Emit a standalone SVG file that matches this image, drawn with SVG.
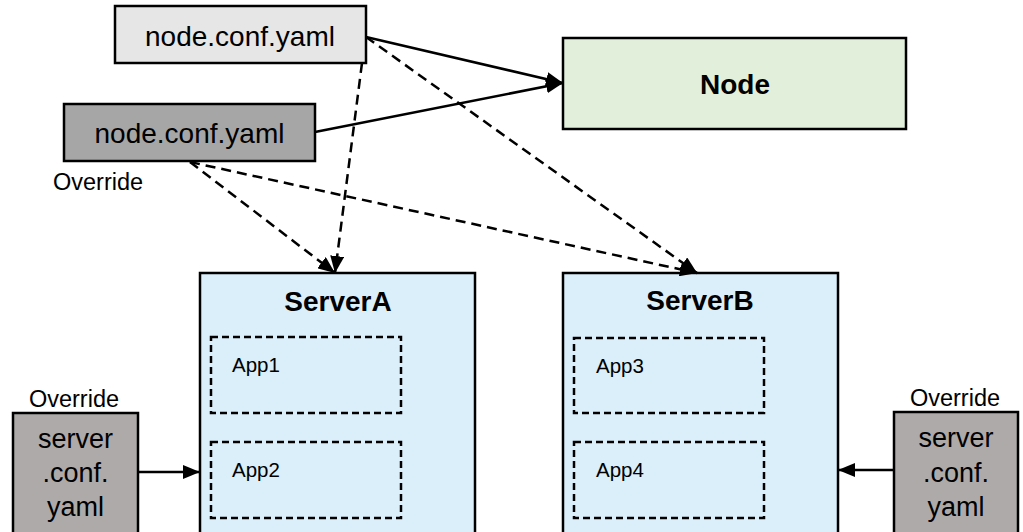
<svg xmlns="http://www.w3.org/2000/svg" width="1023" height="532" viewBox="0 0 1023 532">
<defs>
<marker id="ah" markerUnits="userSpaceOnUse" markerWidth="17" markerHeight="14" refX="17" refY="7" orient="auto">
<path d="M0,0 L17,7 L0,14 z" fill="#000"/>
</marker>
<style>
.box{stroke:#000;stroke-width:2.5}
.t{font-family:"Liberation Sans",Arial,sans-serif;fill:#000}
.b{font-weight:bold;font-size:28px;text-anchor:middle}
.app{fill:none;stroke:#000;stroke-width:2.5;stroke-dasharray:7,4}
.s{fill:none;stroke:#000;stroke-width:2.5}
.d{fill:none;stroke:#000;stroke-width:2.5;stroke-dasharray:10,6}
</style>
</defs>
<rect width="1023" height="532" fill="#fff"/>
<g id="nodeconf1">
<rect class="box" x="115" y="6" width="251" height="57" fill="#e6e6e6"/>
<text class="t" x="240" y="46" font-size="28" text-anchor="middle">node.conf.yaml</text>
</g>
<g id="nodeconf2">
<rect class="box" x="64" y="104" width="251" height="57" fill="#a6a6a6"/>
<text class="t" x="189.5" y="143" font-size="28" text-anchor="middle">node.conf.yaml</text>
<text class="t" x="53" y="190" font-size="23.5">Override</text>
</g>
<g id="node">
<rect class="box" x="563" y="38" width="343" height="91" fill="#e2efda"/>
<text class="t b" x="735" y="94">Node</text>
</g>
<g id="serverA">
<rect class="box" x="200" y="273" width="275" height="270" fill="#dbeffb"/>
<text class="t b" x="338" y="311">ServerA</text>
<g id="app1"><rect class="app" x="211" y="337" width="190" height="76"/><text class="t" x="232" y="372" font-size="20.5">App1</text></g>
<g id="app2"><rect class="app" x="211" y="442" width="190" height="76"/><text class="t" x="232" y="477" font-size="20.5">App2</text></g>
</g>
<g id="serverB">
<rect class="box" x="563" y="273" width="275" height="270" fill="#dbeffb"/>
<text class="t b" x="700" y="310">ServerB</text>
<g id="app3"><rect class="app" x="574" y="338" width="190" height="75"/><text class="t" x="596" y="373" font-size="20.5">App3</text></g>
<g id="app4"><rect class="app" x="574" y="442" width="190" height="76"/><text class="t" x="596" y="477" font-size="20.5">App4</text></g>
</g>
<g id="serverconfA">
<text class="t" x="74" y="407" font-size="23.5" text-anchor="middle">Override</text>
<rect class="box" x="13" y="413" width="125" height="130" fill="#aeaaaa"/>
<text class="t" x="75.5" y="448" font-size="27" text-anchor="middle">server</text>
<text class="t" x="75.5" y="482" font-size="27" text-anchor="middle">.conf.</text>
<text class="t" x="75.5" y="516" font-size="27" text-anchor="middle">yaml</text>
</g>
<g id="serverconfB">
<text class="t" x="955" y="406" font-size="23.5" text-anchor="middle">Override</text>
<rect class="box" x="894" y="412" width="124" height="131" fill="#aeaaaa"/>
<text class="t" x="956" y="447" font-size="27" text-anchor="middle">server</text>
<text class="t" x="956" y="482" font-size="27" text-anchor="middle">.conf.</text>
<text class="t" x="956" y="516" font-size="27" text-anchor="middle">yaml</text>
</g>
<g id="connectors">
<line class="s" x1="366" y1="37" x2="563" y2="83" marker-end="url(#ah)"/>
<line class="s" x1="315" y1="132" x2="563" y2="83" marker-end="url(#ah)"/>
<line class="d" x1="362" y1="63" x2="335" y2="273" marker-end="url(#ah)"/>
<line class="d" x1="190" y1="162" x2="335" y2="273" marker-end="url(#ah)"/>
<line class="d" x1="366" y1="37" x2="697" y2="273" marker-end="url(#ah)"/>
<line class="d" x1="190" y1="162" x2="697" y2="273" marker-end="url(#ah)"/>
<line class="s" x1="138" y1="472" x2="200" y2="472" marker-end="url(#ah)"/>
<line class="s" x1="894" y1="470" x2="838" y2="470" marker-end="url(#ah)"/>
</g>
</svg>
